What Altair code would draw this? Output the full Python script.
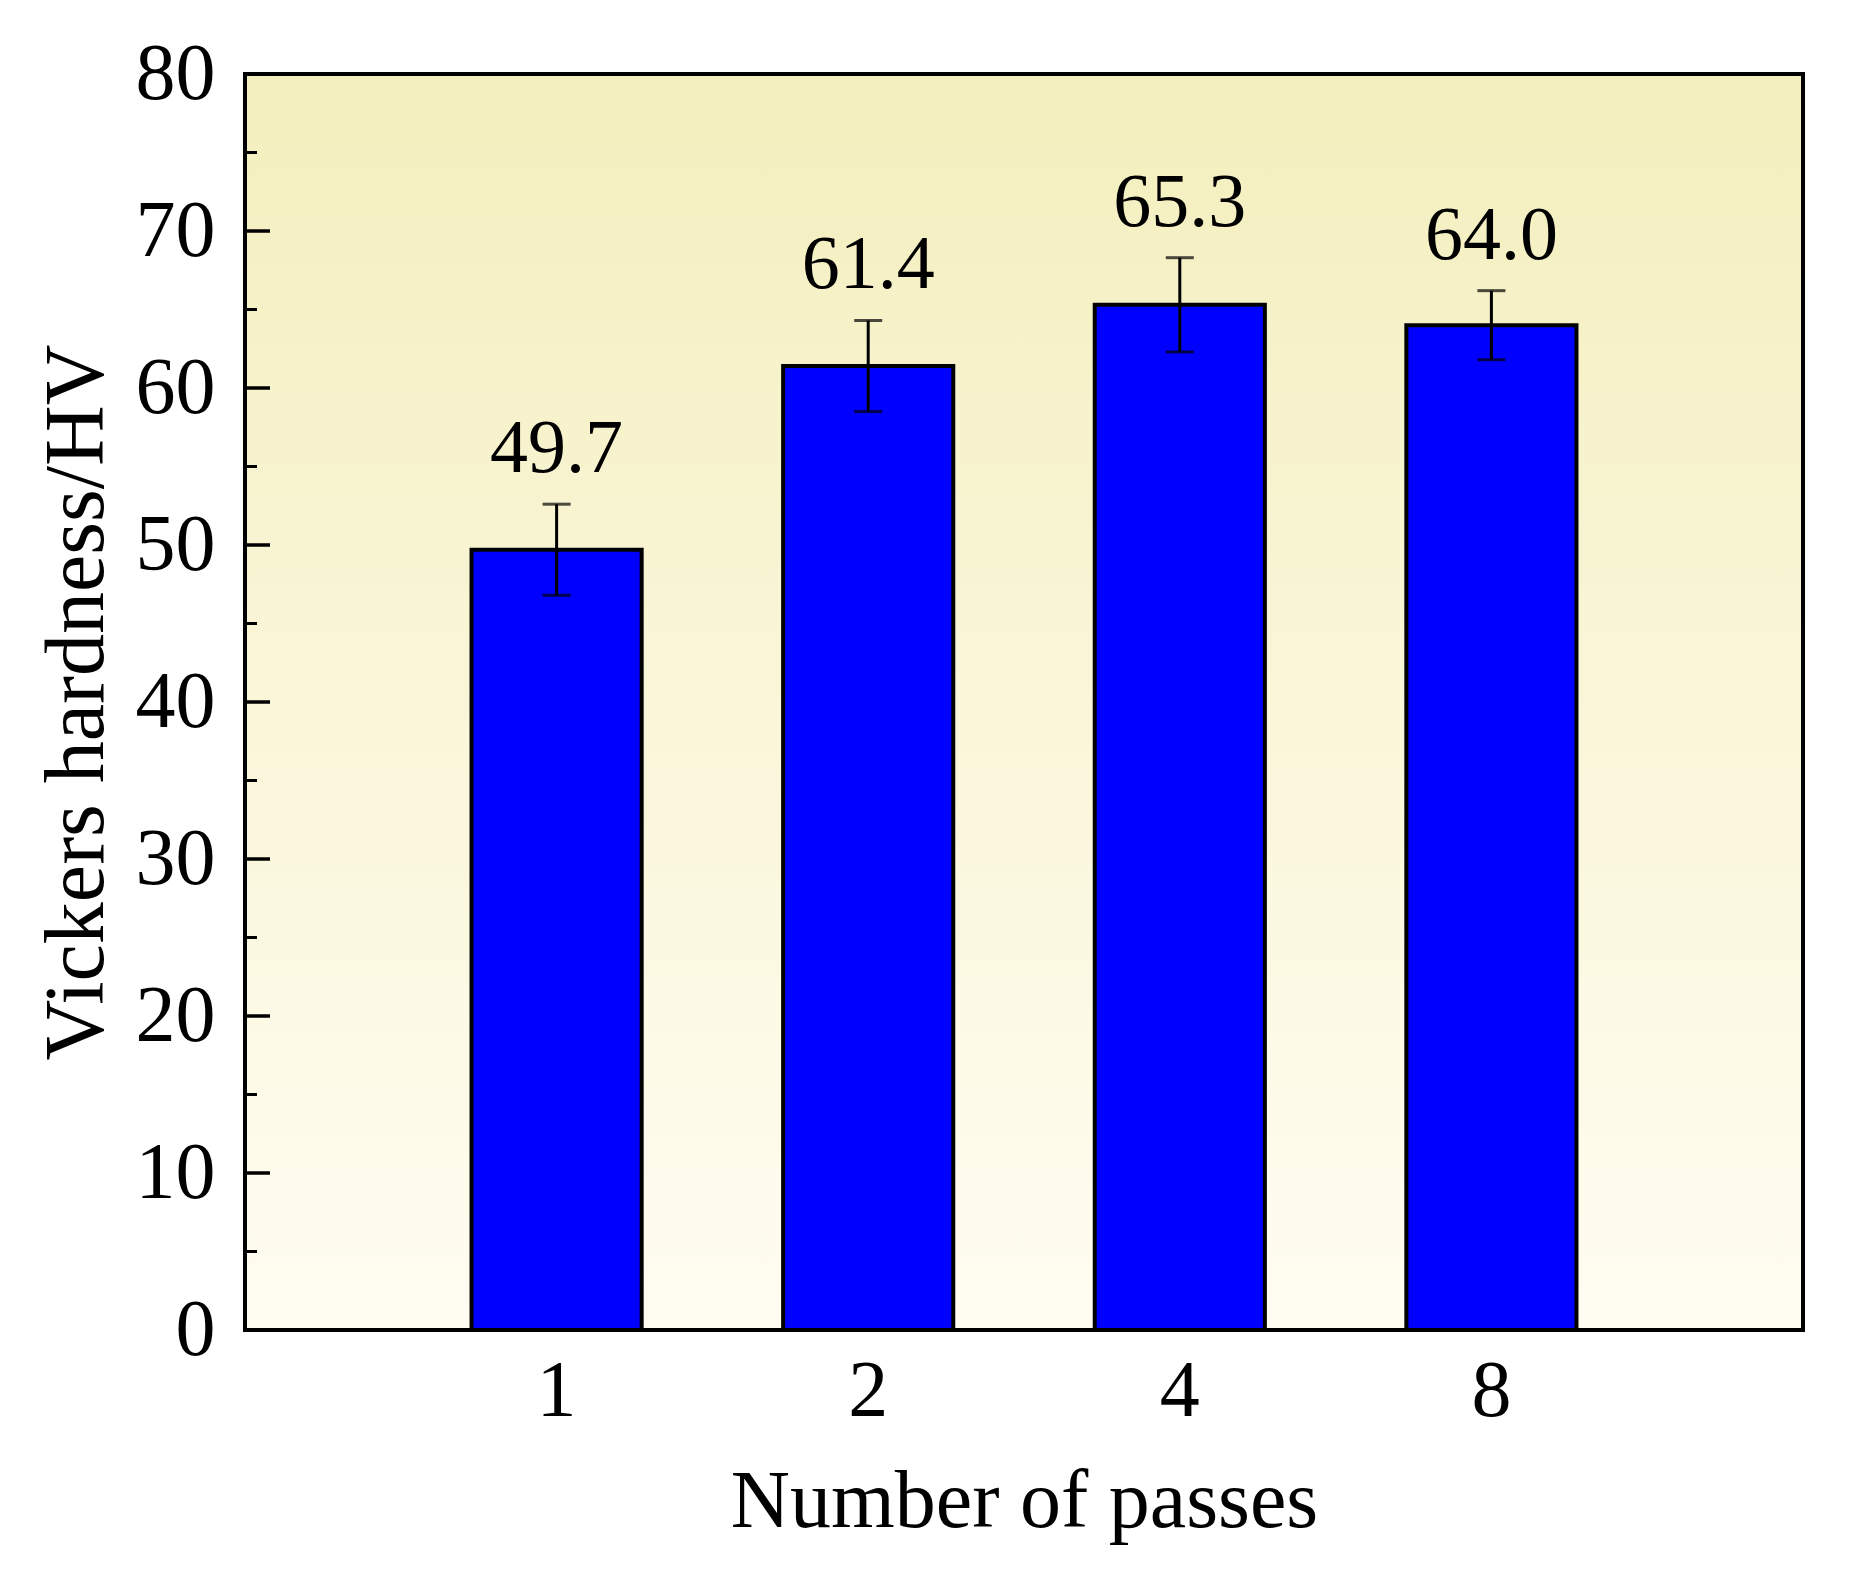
import altair as alt
import pandas as pd

# ---- data ----
passes = ["1", "2", "4", "8"]
hardness = [49.7, 61.4, 65.3, 64.0]
errors = [2.9, 2.9, 3.0, 2.2]

major_ticks = [0, 10, 20, 30, 40, 50, 60, 70, 80]
minor_ticks = [5, 15, 25, 35, 45, 55, 65, 75]

FONT = "Liberation Serif"

df = pd.DataFrame({"passes": passes, "hardness": hardness, "err": errors})
df["low"] = df["hardness"] - df["err"]
df["high"] = df["hardness"] + df["err"]

one = pd.DataFrame({"a": [0]})
major_df = pd.DataFrame({"v": major_ticks})
minor_df = pd.DataFrame({"v": minor_ticks})

yscale = alt.Scale(domain=[0, 80], nice=False, zero=True)
xscale = alt.Scale(paddingInner=0.454, paddingOuter=0.727)

xaxis = alt.Axis(title="Number of passes", labelAngle=0, ticks=False,
                 tickSize=0, domain=False, labelPadding=22, titlePadding=30,
                 labelFontSize=80, titleFontSize=82, labelFont=FONT, titleFont=FONT,
                 labelColor="black", titleColor="black", titleFontWeight="normal")
yaxis = alt.Axis(title="Vickers hardness/HV", values=major_ticks, ticks=False,
                 tickSize=0, domain=False, grid=False, labelPadding=30,
                 titlePadding=15, labelFontSize=80, titleFontSize=84,
                 labelFont=FONT, titleFont=FONT, labelColor="black",
                 titleColor="black", titleFontWeight="normal")


def X():
    return alt.X("passes:N", sort=passes, scale=xscale, axis=xaxis, title="Number of passes")


def Y(field):
    return alt.Y(field, scale=yscale, axis=yaxis, title="Vickers hardness/HV")


background = alt.Chart(one).mark_rect(
    fill=alt.LinearGradient(
        gradient="linear",
        stops=[alt.GradientStop(color="#F4EFBD", offset=0),
               alt.GradientStop(color="#F9F5D6", offset=0.45),
               alt.GradientStop(color="#FFFDF2", offset=1)],
        x1=0, x2=0, y1=0, y2=1),
    strokeWidth=0,
).encode(x=alt.value(0), x2=alt.value("width"), y=alt.value(0), y2=alt.value("height"))

bars = alt.Chart(df).mark_bar(color="#0000FF", stroke="black", strokeWidth=4).encode(
    x=X(), y=Y("hardness:Q"))

err_rule = alt.Chart(df).mark_rule(color="black", strokeWidth=3).encode(
    x=X(), y=Y("low:Q"), y2="high:Q")
cap_hi = alt.Chart(df).mark_tick(color="black", thickness=3, size=28).encode(
    x=X(), y=Y("high:Q"))
cap_lo = alt.Chart(df).mark_tick(color="black", thickness=3, size=28).encode(
    x=X(), y=Y("low:Q"))

labels = alt.Chart(df).mark_text(font=FONT, fontSize=76, baseline="alphabetic",
                                 dy=-32, color="black").encode(
    x=X(), y=Y("high:Q"), text=alt.Text("hardness:Q", format=".1f"))

major = alt.Chart(major_df).mark_rule(color="black", strokeWidth=3.5).encode(
    y=Y("v:Q"), x=alt.value(0), x2=alt.value(25))
minor = alt.Chart(minor_df).mark_rule(color="black", strokeWidth=3).encode(
    y=Y("v:Q"), x=alt.value(0), x2=alt.value(12))

frame = alt.Chart(one).mark_rect(fillOpacity=0, stroke="black", strokeWidth=4).encode(
    x=alt.value(0), x2=alt.value("width"), y=alt.value(0), y2=alt.value("height"))

chart = alt.layer(background, bars, err_rule, cap_hi, cap_lo, labels, major, minor, frame).properties(
    width=1558, height=1256,
    padding={"left": 27, "top": 26, "right": 5, "bottom": 5},
).configure_view(strokeWidth=0).configure(background="white")

chart.save("out.html", embed_options={"renderer": "svg", "actions": False})
